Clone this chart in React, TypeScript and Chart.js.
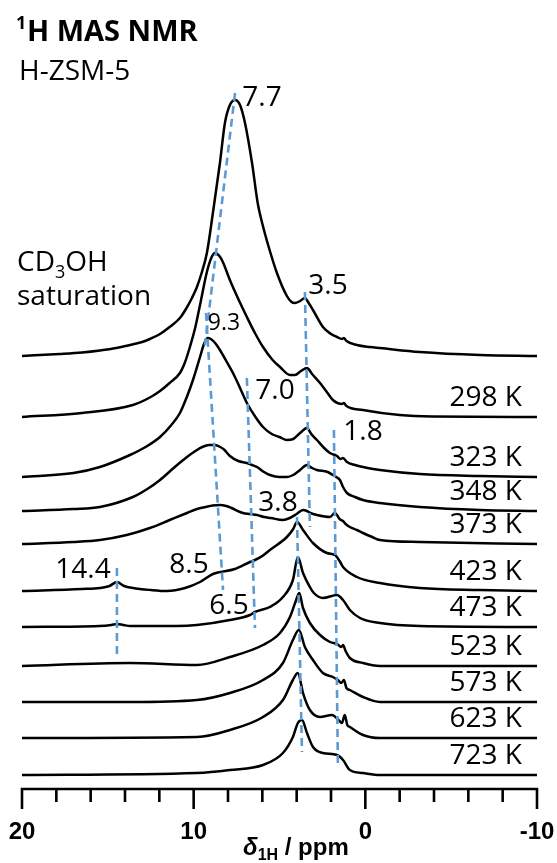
import React, { useEffect, useRef } from 'react';
import { Chart, registerables } from 'chart.js';

Chart.register(...registerables);

// ---------- data ----------
const X_MIN = -10;
const X_MAX = 20;
const TICK_STEP = 2;
const MAJOR_EVERY = 10;
const TICK_LABELS = ['20', '10', '0', '-10'];

// spectra: [ppm, intensity (a.u.)]
const SPEC_CD3OH = [[20,0],[17.8,2],[16.5,3.5],[15.46,5.5],[14.5,8],[13.71,11],[13.0,14],[12.55,17],[11.96,22],[11.4,29],[10.8,38],[10.45,47],[10.1,58],[9.81,69],[9.52,84],[9.23,103],[8.88,143],[8.47,193],[8.18,233],[7.89,251],[7.59,256],[7.3,251],[7.01,233],[6.6,193],[6.26,152],[5.98,131],[5.73,115],[5.15,83],[4.57,60],[4.3,54],[4.1,53],[3.8,55],[3.52,58],[3.3,53],[3.05,46],[2.47,29],[2.0,22],[1.65,19],[1.36,17],[1.25,18],[1.1,15],[0.49,11],[-0.27,9],[-0.85,8],[-3.18,4],[-6.67,1],[-10,0]];
const SPEC_298K = [[20,0],[16.5,4],[13.54,12],[12.5,20],[11.96,26],[11.4,34],[10.8,44],[10.5,55],[10.22,70],[9.9,90],[9.63,112],[9.23,145],[8.95,160],[8.76,164],[8.5,161],[8.3,155],[7.89,137],[7.4,118],[6.9,100],[6.4,83],[5.96,70],[5.4,57],[4.97,50],[4.39,42],[4.1,42],[3.75,46],[3.4,49],[3.1,43],[2.64,34],[2.2,24],[1.89,17],[1.36,13],[1.25,14],[1.1,11],[0.14,7],[-2.0,2],[-3.9,0.5],[-10,0]];
const SPEC_323K = [[20,0],[17,4],[15.46,10],[13.71,22],[12.8,30],[11.96,40],[11.3,52],[10.8,64],[10.4,80],[10.04,97],[9.63,120],[9.4,133],[9.2,139],[9.0,138],[8.75,134],[8.47,127],[8.1,116],[7.71,104],[7.3,89],[6.9,74],[6.4,60],[5.96,50],[5.45,43],[5.0,40],[4.57,37],[4.2,38],[3.8,44],[3.4,49],[3.15,43],[2.82,37],[2.4,29],[2.06,24],[1.65,21],[1.45,18],[1.3,19],[1.07,15],[0.6,12],[0.14,10],[-0.85,7],[-3.18,3],[-6.67,1],[-10,0]];
const SPEC_348K = [[20,0],[17,2],[15.46,4],[13.54,14],[12.7,22],[11.96,31],[11.1,44],[10.39,54],[9.9,60],[9.5,64],[9.1,66],[8.76,66],[8.45,64],[8.2,61],[7.89,55],[7.4,50],[6.9,48],[6.6,46],[6.31,44],[5.9,39],[5.56,36],[5.0,34],[4.57,34],[4.2,36],[3.8,41],[3.4,46],[3.1,43],[2.82,41],[2.2,39],[1.89,36],[1.7,34],[1.48,31],[1.3,24],[1.07,18],[0.6,14],[0.14,11],[-0.85,8],[-3.18,4],[-6.67,1],[-10,0]];
const SPEC_373K = [[20,0],[17,2],[15.46,4],[13.9,9],[12.55,16],[11.4,24],[10.39,31],[9.8,35],[9.3,37],[8.9,38.5],[8.47,39],[8.1,38],[7.8,36],[7.13,31],[6.7,30],[6.31,29],[5.9,27],[5.5,26],[4.8,24],[4.4,26],[4.0,30],[3.63,34],[3.4,33],[3.2,31],[2.82,29],[2.06,27],[1.77,31],[1.5,25],[1.3,23],[1.15,20],[0.9,17],[0.5,14],[0.14,11],[-0.4,7],[-0.85,4],[-3.18,2],[-10,0]];
const SPEC_423K = [[20,0],[16.5,2],[15.46,3],[14.9,5],[14.47,9],[14.05,5],[13.54,3],[12.5,1],[11.56,0],[10.5,3],[9.63,9],[8.88,17],[7.6,22],[6.72,29],[6.43,31],[6.0,35],[5.56,41],[4.57,54],[4.2,62],[3.98,69],[3.63,61],[3.05,48],[2.24,38],[1.77,36],[1.5,30],[1.3,24],[0.49,14],[-0.85,8],[-3.18,3],[-6.67,1],[-10,0]];
const SPEC_473K = [[20,0],[15.5,1],[14.8,2],[14.47,3],[14.1,2],[13.7,1],[11,1],[9.81,2],[7.89,7],[6.72,12],[6.43,15],[5.56,20],[4.8,30],[4.22,47],[3.93,70],[3.63,54],[3.23,40],[3.0,34],[2.47,29],[1.65,32],[1.3,27],[0.9,17],[0.31,9],[-0.85,4],[-3.18,1],[-10,0]];
const SPEC_523K = [[20,0],[13.71,3],[9.81,1],[7.89,9],[5.96,21],[4.97,33],[4.39,49],[4.05,65],[3.85,73],[3.63,58],[3.23,43],[2.64,31],[2.06,24],[1.65,22],[1.4,19],[1.3,21],[1.15,15],[0.9,8],[0.14,3],[-0.85,0],[-10,0]];
const SPEC_573K = [[20,0],[13.71,0],[9.81,2],[7.89,9],[5.96,22],[4.8,39],[4.22,62],[3.87,72],[3.52,55],[3.05,42],[2.47,29],[1.89,25],[1.6,22],[1.4,19],[1.25,22],[1.1,14],[0.9,12],[0.14,5],[-0.85,0],[-10,0]];
const SPEC_623K = [[20,0],[9.81,1],[7.89,8],[5.96,21],[4.8,38],[4.22,58],[3.93,65],[3.63,45],[3.23,28],[2.64,21],[1.95,23],[1.5,17],[1.36,15],[1.2,23],[1.05,13],[0.9,11],[0.14,3],[-0.85,0],[-10,0]];
const SPEC_723K = [[20,0],[9.81,2],[7.89,5],[5.96,10],[4.8,22],[4.22,38],[3.93,52],[3.69,55],[3.4,42],[3.05,28],[2.47,22],[1.65,20],[1.3,15],[0.9,5],[0.14,2],[-0.85,0],[-10,0]];

const SPECTRA = [SPEC_CD3OH, SPEC_298K, SPEC_323K, SPEC_348K, SPEC_373K, SPEC_423K, SPEC_473K, SPEC_523K, SPEC_573K, SPEC_623K, SPEC_723K];
const STACK_OFFSETS = [433, 372, 312, 278, 245, 198, 162, 123, 87, 51, 14];
const TEMPERATURES = ['', '298 K', '323 K', '348 K', '373 K', '423 K', '473 K', '523 K', '573 K', '623 K', '723 K'];

// guide lines connecting peak positions: [ppm, stacked y]
const GUIDE_LINES = [
  [[7.59, 696], [9.34, 444]],
  [[9.28, 476], [8.29, 199]],
  [[6.90, 411], [6.43, 161]],
  [[3.52, 497], [3.23, 262]],
  [[1.83, 359], [1.60, 26]],
  [[3.98, 272], [3.69, 37]],
  [[14.47, 221], [14.47, 134]],
];

const PEAK_TEXTS = ['7.7', '3.5', '9.3', '7.0', '1.8', '3.8', '14.4', '8.5', '6.5'];

// ---------- layout ----------
const W = 557;
const H = 863;
const TEXT_FONT = '"Open Sans", "Noto Sans", sans-serif';
const AXIS_FONT = '"Liberation Sans", Arial, sans-serif';
const PEAK_TEXT_POS = [[262, 96, 28], [328, 284, 28], [224, 322, 23], [275, 389, 28], [363, 430, 28], [278, 501, 28], [83, 568, 28], [189, 563, 28], [229, 604, 28]];
const GUIDE_COLOR = '#5B9BD5';

const overlay = {
  id: 'overlay',
  afterDraw(chart: any) {
    const ctx = chart.ctx as CanvasRenderingContext2D;
    const xs = chart.scales.x;
    const ys = chart.scales.y;
    const area = chart.chartArea;
    ctx.save();
    // axis line and ticks
    ctx.strokeStyle = '#000';
    ctx.lineWidth = 2.6;
    ctx.lineCap = 'butt';
    ctx.beginPath();
    ctx.moveTo(area.left - 1.3, area.bottom);
    ctx.lineTo(area.right + 1.3, area.bottom);
    for (let v = X_MIN; v <= X_MAX; v += TICK_STEP) {
      const px = xs.getPixelForValue(v);
      const len = v % MAJOR_EVERY === 0 ? 20 : 13;
      ctx.moveTo(px, area.bottom - 1.3);
      ctx.lineTo(px, area.bottom + len);
    }
    ctx.stroke();

    ctx.fillStyle = '#000';
    // tick labels
    ctx.textAlign = 'center';
    ctx.textBaseline = 'alphabetic';
    ctx.font = `bold 24px ${AXIS_FONT}`;
    TICK_LABELS.forEach((t) => {
      ctx.fillText(t, xs.getPixelForValue(Number(t)), area.bottom + 50);
    });

    ctx.textAlign = 'left';

    // title
    ctx.font = `bold 18px ${TEXT_FONT}`;
    ctx.fillText('1', 16, 29);
    ctx.font = `bold 29px ${TEXT_FONT}`;
    ctx.fillText('H MAS NMR', 27, 41);
    ctx.font = `28px ${TEXT_FONT}`;
    ctx.fillText('H-ZSM-5', 19, 80);

    // CD3OH saturation
    let x = 17;
    ctx.font = `28px ${TEXT_FONT}`;
    ctx.fillText('CD', x, 271);
    x += ctx.measureText('CD').width;
    ctx.font = `18px ${TEXT_FONT}`;
    ctx.fillText('3', x, 278);
    x += ctx.measureText('3').width;
    ctx.font = `28px ${TEXT_FONT}`;
    ctx.fillText('OH', x, 271);
    ctx.fillText('saturation', 17, 305);

    // temperature labels
    ctx.textAlign = 'right';
    ctx.font = `28px ${TEXT_FONT}`;
    const xr = xs.getPixelForValue(-9.12);
    TEMPERATURES.forEach((t, i) => {
      if (!t) return;
      const yb = ys.getPixelForValue(STACK_OFFSETS[i]);
      ctx.fillText(t, xr, yb - 11);
    });

    // peak labels
    ctx.textAlign = 'center';
    PEAK_TEXTS.forEach((t, i) => {
      const [cx, cy, size] = PEAK_TEXT_POS[i];
      ctx.font = `${size}px ${TEXT_FONT}`;
      ctx.fillText(t, cx, cy + size * 0.357);
    });

    // axis title
    ctx.textAlign = 'left';
    let ax = 243;
    const ab = 855;
    ctx.font = `italic bold 24px ${AXIS_FONT}`;
    ctx.fillText('\u03B4', ax, ab);
    ax += ctx.measureText('\u03B4').width;
    ctx.font = `bold 16px ${AXIS_FONT}`;
    ctx.fillText('1H', ax, ab + 5);
    ax += ctx.measureText('1H').width;
    ctx.font = `bold 24px ${AXIS_FONT}`;
    ctx.fillText(' / ppm', ax, ab);
    ctx.restore();
  },
};

export default function App() {
  const ref = useRef<HTMLCanvasElement>(null);
  useEffect(() => {
    if (!ref.current) return;
    const datasets: any[] = [];
    SPECTRA.forEach((spec, i) => {
      datasets.push({
        data: spec.map(([p, v]) => ({ x: p, y: STACK_OFFSETS[i] + v })),
        borderColor: '#000',
        borderWidth: 2.5,
        pointRadius: 0,
        cubicInterpolationMode: 'monotone',
        fill: false,
        order: 1,
      });
    });
    GUIDE_LINES.forEach((g) => {
      datasets.push({
        data: g.map(([p, v]) => ({ x: p, y: v })),
        borderColor: GUIDE_COLOR,
        borderWidth: 2.6,
        borderDash: [8, 5],
        pointRadius: 0,
        tension: 0,
        fill: false,
        order: 0,
      });
    });
    const chart = new Chart(ref.current, {
      type: 'line',
      data: { datasets },
      options: {
        responsive: false,
        animation: false,
        devicePixelRatio: 1,
        layout: { padding: { left: 22, right: 20, top: 0, bottom: 0 } },
        plugins: { legend: { display: false }, tooltip: { enabled: false } },
        scales: {
          x: {
            type: 'linear',
            min: X_MIN,
            max: X_MAX,
            reverse: true,
            grid: { display: false, drawTicks: false },
            border: { display: false },
            ticks: { display: false, stepSize: TICK_STEP },
            afterFit: (scale: any) => {
              scale.height = 74;
            },
          },
          y: {
            type: 'linear',
            display: false,
            min: 0,
            max: 789,
          },
        },
      },
      plugins: [overlay],
    } as any);
    return () => chart.destroy();
  }, []);
  return (
    <div style={{ position: 'absolute', left: 0, top: 0, width: W, height: H, background: '#fff' }}>
      <canvas ref={ref} width={W} height={H} />
    </div>
  );
}
